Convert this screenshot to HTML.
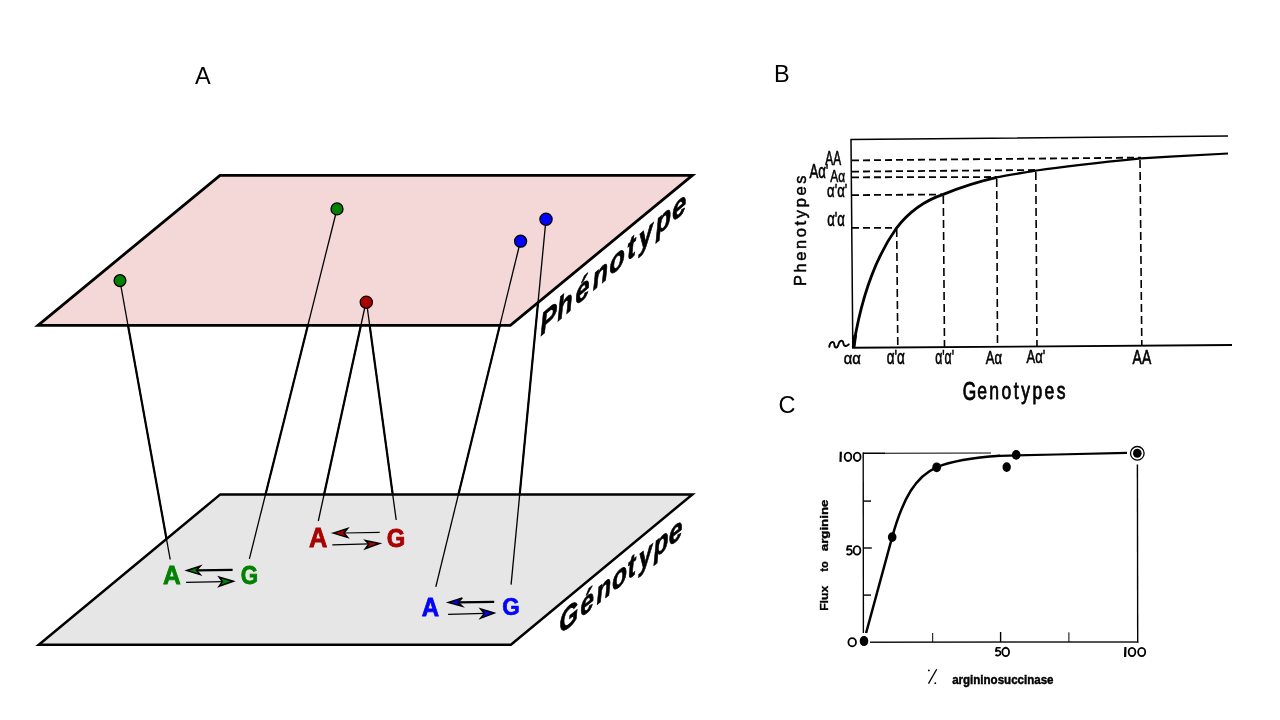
<!DOCTYPE html>
<html lang="fr">
<head>
<meta charset="utf-8">
<title>Génotype - Phénotype</title>
<style>
  html, body { margin: 0; padding: 0; background: #ffffff; }
  body { width: 1280px; height: 720px; overflow: hidden; font-family: "Liberation Sans", sans-serif; }
  svg { display: block; will-change: transform; opacity: 0.9999; }
  text { font-family: "Liberation Sans", sans-serif; }
  .lbl { font-size: 23.5px; fill: #000; }
  .bold { font-weight: bold; }
  .hand { font-family: "Liberation Sans", sans-serif; fill: #000; }
</style>
</head>
<body>
<svg width="1280" height="720" viewBox="0 0 1280 720">
  <rect x="0" y="0" width="1280" height="720" fill="#ffffff"/>

  <!-- ================= PANEL A ================= -->
  <text class="lbl" x="195" y="84">A</text>

  <!-- lower plane (genotype) -->
  <polygon points="220.3,494.4 692.4,494.4 510.9,644.7 38.8,644.7" fill="#e6e6e6" stroke="#000" stroke-width="2.5" stroke-linejoin="miter"/>
  <!-- upper plane (phenotype) -->
  <polygon points="220,175.3 692.4,175.3 510.4,325.3 38,325.3" fill="#f4d7d7" stroke="#000" stroke-width="2.8" stroke-linejoin="miter"/>

  <!-- connecting lines -->
  <g stroke="#000" stroke-width="1.3" fill="none">
      <line x1="120" y1="281" x2="170.2" y2="559.5"/>
      <line x1="337" y1="209" x2="249.4" y2="558.8"/>
      <line x1="366" y1="302" x2="318.3" y2="521"/>
      <line x1="366.5" y1="302" x2="396.2" y2="520"/>
      <line x1="520.5" y1="241" x2="435.8" y2="586.8"/>
      <line x1="546" y1="219" x2="511.1" y2="584.6"/>
  </g>
  <g stroke="#000" stroke-width="2.2" fill="none">
    <line x1="127.99" y1="325.31" x2="166.50" y2="538.96"/>
    <line x1="307.87" y1="325.31" x2="265.53" y2="494.40"/>
    <line x1="360.92" y1="325.30" x2="324.09" y2="494.40"/>
    <line x1="369.67" y1="325.30" x2="392.71" y2="494.41"/>
    <line x1="499.85" y1="325.31" x2="458.43" y2="494.40"/>
    <line x1="538.03" y1="302.54" x2="519.71" y2="494.41"/>
  </g>

  <!-- dots -->
  <g stroke="#000" stroke-width="1.3">
    <circle cx="120" cy="280.6" r="5.9" fill="#008000"/>
    <circle cx="337" cy="208.9" r="6" fill="#008000"/>
    <circle cx="366.3" cy="302.2" r="6.1" fill="#aa0000"/>
    <circle cx="520.6" cy="241.2" r="6" fill="#0000ff"/>
    <circle cx="546" cy="219.2" r="6.1" fill="#0000ff"/>
  </g>

  <!-- plane labels -->
  <text class="bold" font-style="italic" font-size="30" fill="#000" stroke="#000" stroke-width="0.7" transform="matrix(0.85,-0.735,0.05,1,542.5,334.8)" x="-2.35 17.60 39.20 59.50 79.20 100.00 113.90 133.45 152.90" y="0">Phénotype</text>
  <text class="bold" font-style="italic" font-size="30" fill="#000" stroke="#000" stroke-width="0.7" transform="matrix(0.815,-0.655,0.05,1,559,635.3)" x="0.80 26.84 46.27 65.80 84.80 98.50 116.56 135.34" y="0">Génotype</text>

  <!-- green A <-> G -->
  <g fill="#008000" stroke="#008000" stroke-width="3" class="bold" font-size="100">
    <text transform="translate(162.90,584.04) scale(0.2458,0.2625)" x="0" y="0">A</text>
    <text transform="translate(240.85,584.04) scale(0.2239,0.2547)" x="0" y="0">G</text>
  </g>
  <g stroke="#000" fill="#008000">
    <line x1="232.6" y1="569.8" x2="197" y2="570.3" stroke-width="2.2"/>
    <polygon points="186.8,570.5 200.2,566.2 196.5,570.2 200.2,574.6" stroke-width="1.5" stroke-linejoin="miter"/>
    <line x1="186.1" y1="582.4" x2="223" y2="581.6" stroke-width="1.2"/>
    <polygon points="233.3,581.3 219.1,577.0 222.4,581.6 219.1,586.3" stroke-width="1.5" stroke-linejoin="miter"/>
  </g>

  <!-- red A <-> G -->
  <g fill="#aa0000" stroke="#aa0000" stroke-width="3" class="bold" font-size="100">
    <text transform="translate(309.10,546.73) scale(0.2542,0.2708)" x="0" y="0">A</text>
    <text transform="translate(386.72,546.62) scale(0.2380,0.2613)" x="0" y="0">G</text>
  </g>
  <g stroke="#000" fill="#aa0000">
    <line x1="379.7" y1="532.4" x2="344" y2="533" stroke-width="1.2"/>
    <polygon points="333.2,533.1 347.6,528.5 344.0,533.0 347.6,537.4" stroke-width="1.5" stroke-linejoin="miter"/>
    <line x1="332.3" y1="544.8" x2="369" y2="543.9" stroke-width="1.2"/>
    <polygon points="379.6,543.4 365.4,540.4 368.9,544.0 365.4,548.6" stroke-width="1.5" stroke-linejoin="miter"/>
  </g>

  <!-- blue A <-> G -->
  <g fill="#0000ff" stroke="#0000ff" stroke-width="3" class="bold" font-size="100">
    <text transform="translate(421.70,615.94) scale(0.2403,0.2625)" x="0" y="0">A</text>
    <text transform="translate(502.25,615.47) scale(0.2239,0.2440)" x="0" y="0">G</text>
  </g>
  <g stroke="#000" fill="#0000ff">
    <line x1="494.2" y1="601.9" x2="458" y2="602.3" stroke-width="2.2"/>
    <polygon points="448.4,602.5 462.3,598.0 458.1,602.2 462.3,606.3" stroke-width="1.5" stroke-linejoin="miter"/>
    <line x1="448.1" y1="614.3" x2="484.5" y2="613.4" stroke-width="1.2"/>
    <polygon points="494.1,613.0 480.7,609.0 484.4,613.4 480.7,618.1" stroke-width="1.5" stroke-linejoin="miter"/>
  </g>

  <!-- ================= PANEL B ================= -->
  <text class="lbl" x="774" y="82">B</text>

  <g stroke="#000" fill="none">
    <!-- frame -->
    <polyline points="1228,136 851,139.6 852.8,348" stroke-width="1.5"/>
    <line x1="852" y1="347.8" x2="1232" y2="345" stroke-width="1.9"/>
    <!-- curve -->
    <path d="M853.5,346 C858,318 868,268 896.7,227.8 C912,208 928,199.5 943.3,194.4 C962,186.8 980,181.2 996.7,177.4" stroke-width="2.8"/>
    <path d="M994,178.1 L996.7,177.4 C1010,174.6 1024,172.7 1036.7,170.5 C1070,165.6 1105,162 1141,158.4 C1170,156.6 1200,155.2 1228,153.5" stroke-width="2.2"/>
    <!-- dashed horizontals -->
    <g stroke-width="1.8" stroke-dasharray="7 4">
      <line x1="852" y1="160.4" x2="1141" y2="157.6"/>
      <line x1="852" y1="171.6" x2="1036" y2="170"/>
      <line x1="852" y1="177.3" x2="996.7" y2="177"/>
      <line x1="852" y1="195.1" x2="943.3" y2="194.5"/>
      <line x1="852" y1="227.8" x2="896.7" y2="227.8"/>
    </g>
    <!-- dashed verticals -->
    <g stroke-width="1.6" stroke-dasharray="8 4">
      <line x1="896.7" y1="229" x2="897.8" y2="347"/>
      <line x1="943.3" y1="196" x2="944.5" y2="347"/>
      <line x1="996.7" y1="179" x2="997.5" y2="346.5"/>
      <line x1="1035.8" y1="172" x2="1037" y2="346"/>
      <line x1="1140" y1="160" x2="1141.8" y2="345.5"/>
    </g>
  </g>

  <!-- B labels -->
  <g>
    <text transform="translate(825.36,165.21) scale(0.1187,0.1959)" font-size="100" font-family="Liberation Sans" fill="#000" stroke="#000" stroke-width="3.2" >AA</text>
    <text transform="translate(809.40,178.41) scale(0.1319,0.1973)" font-size="100" font-family="Liberation Sans" fill="#000" stroke="#000" stroke-width="3.2" >Aα'</text>
    <text transform="translate(830.36,181.99) scale(0.1195,0.1689)" font-size="100" font-family="Liberation Sans" fill="#000" stroke="#000" stroke-width="3.2" >Aα</text>
    <text transform="translate(827.04,197.42) scale(0.1315,0.1919)" font-size="100" font-family="Liberation Sans" fill="#000" stroke="#000" stroke-width="3.2" >α'α'</text>
    <text transform="translate(827.24,225.72) scale(0.1316,0.1946)" font-size="100" font-family="Liberation Sans" fill="#000" stroke="#000" stroke-width="3.2" >α'α</text>
    <text transform="translate(843.70,364.00) scale(0.1482,0.1661)" font-size="100" font-family="Liberation Sans" fill="#000" stroke="#000" stroke-width="3.2" >αα</text>
    <text transform="translate(886.63,364.22) scale(0.1353,0.1932)" font-size="100" font-family="Liberation Sans" fill="#000" stroke="#000" stroke-width="3.2" >α'α</text>
    <text transform="translate(935.15,364.22) scale(0.1228,0.1932)" font-size="100" font-family="Liberation Sans" fill="#000" stroke="#000" stroke-width="3.2" >α'α'</text>
    <text transform="translate(985.69,364.23) scale(0.1305,0.1892)" font-size="100" font-family="Liberation Sans" fill="#000" stroke="#000" stroke-width="3.2" >Aα</text>
    <text transform="translate(1026.59,363.43) scale(0.1299,0.1892)" font-size="100" font-family="Liberation Sans" fill="#000" stroke="#000" stroke-width="3.2" >Aα'</text>
    <text transform="translate(1132.62,364.01) scale(0.1396,0.1973)" font-size="100" font-family="Liberation Sans" fill="#000" stroke="#000" stroke-width="3.2" >AA</text>
    <text transform="translate(962.68,399.82) scale(0.1739,0.2613)" font-size="100" font-family="Liberation Sans" fill="#000" stroke="#000" stroke-width="3.4" >G</text>
    <text transform="translate(977.15,398.90) scale(0.1756,0.2303)" font-size="100" font-family="Liberation Sans" fill="#000" stroke="#000" stroke-width="3.4" letter-spacing="14" >enotypes</text>
    <text transform="translate(806.29,285.99) rotate(-90) scale(0.1642,0.1612)" font-size="100" font-family="Liberation Sans" fill="#000" stroke="#000" stroke-width="3" letter-spacing="16" >Phenotypes</text>
  </g>
  <path d="M829.3,346.8 c0.5,-5 4.5,-6.5 5,-2.5 c0.5,4 3,4.5 4,0.5 c1,-4.5 4.5,-5.5 5,-2 c0.5,4 3,4 5.5,1.5" stroke="#000" stroke-width="1.9" fill="none" stroke-linecap="round"/>
  <path d="M855.2,335 L853.6,347.5" stroke="#000" stroke-width="3.6" fill="none"/>

  <!-- ================= PANEL C ================= -->
  <text class="lbl" x="778.5" y="412.5">C</text>

  <g stroke="#000" fill="none">
    <line x1="863.2" y1="452.6" x2="863.4" y2="633" stroke-width="1.35"/>
    <line x1="863" y1="453.3" x2="885" y2="453.2" stroke-width="1.5"/>
    <line x1="885" y1="453.2" x2="991" y2="453" stroke-width="1.1" stroke="#000"/>
    <line x1="870" y1="642.2" x2="1138.4" y2="641.9" stroke-width="1.5" stroke="#1a1a1a"/>
    <line x1="1137.4" y1="464.4" x2="1137.7" y2="642.5" stroke-width="1.4"/>
    <!-- ticks -->
    <g stroke-width="1.4">
      <line x1="863.5" y1="501.1" x2="871" y2="501.1"/>
      <line x1="863.5" y1="548" x2="871.8" y2="548"/>
      <line x1="863.5" y1="595.1" x2="871" y2="595.1"/>
      <line x1="932.7" y1="633" x2="932.7" y2="642" stroke-width="1"/>
      <line x1="1000.6" y1="632" x2="1000.6" y2="642"/>
      <line x1="1068.9" y1="632.3" x2="1068.9" y2="642" stroke-width="1"/>
    </g>
    <!-- curve -->
    <path d="M866.1,633 L892.2,537 C903,498 916,476 936.7,467.3 C953,460.5 975,457.5 1000,455.8" stroke-width="2.5"/>
    <path d="M998,455.9 L1000,455.8 C1040,454.6 1090,454 1127,452.8" stroke-width="2.2"/>
    <circle cx="1137.3" cy="453.3" r="6.8" stroke-width="1.3" fill="#fff"/>
  </g>
  <g fill="#000">
    <ellipse cx="864" cy="641.1" rx="4.3" ry="5"/>
    <ellipse cx="892.2" cy="537.1" rx="4.3" ry="4.9"/>
    <ellipse cx="936.7" cy="467.3" rx="4.4" ry="4.9"/>
    <ellipse cx="1006.7" cy="467.1" rx="4.2" ry="4.9"/>
    <ellipse cx="1016.2" cy="454.9" rx="4.3" ry="4.9"/>
    <ellipse cx="1137.3" cy="453.3" rx="4.3" ry="4.5"/>
  </g>
  <!-- hand-set numerals -->
  <g stroke="#000" stroke-width="1.8" fill="none" stroke-linecap="butt" stroke-linejoin="round">
    <line x1="840.8" y1="451.8" x2="840.5" y2="461.9" stroke-width="2.2"/>
    <ellipse cx="848.0" cy="456.8" rx="3.35" ry="4.20"/>
    <ellipse cx="857.2" cy="456.8" rx="3.35" ry="4.20"/>
    <path transform="translate(845.8,545.3) scale(1.000,1.010)" d="M6.2,0.9 H1.9 L1.2,4.6 C2.6,3.6 6.1,3.7 6.1,6.5 C6.1,9.6 2.3,9.9 0.9,8.2"/>
    <ellipse cx="857.0" cy="550.4" rx="3.35" ry="4.20"/>
    <ellipse cx="852.2" cy="642.2" rx="3.80" ry="4.10"/>
    <path transform="translate(994.7,646.9) scale(0.960,0.940)" d="M6.2,0.9 H1.9 L1.2,4.6 C2.6,3.6 6.1,3.7 6.1,6.5 C6.1,9.6 2.3,9.9 0.9,8.2"/>
    <ellipse cx="1005.7" cy="651.9" rx="3.40" ry="4.15"/>
    <line x1="1125.4" y1="647.0" x2="1125.1" y2="657.0" stroke-width="2.2"/>
    <ellipse cx="1132.0" cy="652.0" rx="3.35" ry="4.20"/>
    <ellipse cx="1141.7" cy="652.0" rx="3.55" ry="4.20"/>
  </g>
  <g>
    <text transform="translate(952.15,683.9) scale(0.1156,0.1225)" font-size="100" font-family="Liberation Sans" font-weight="bold" fill="#000" stroke="#000" stroke-width="3.5">argininosuccinase</text>
    <text transform="translate(827.89,610.86) rotate(-90) scale(0.1222,0.1122)" font-size="100" font-family="Liberation Sans" font-weight="bold" fill="#000" stroke="#000" stroke-width="3">Flux</text>
    <text transform="translate(827.99,571.81) rotate(-90) scale(0.1111,0.1119)" font-size="100" font-family="Liberation Sans" font-weight="bold" fill="#000" stroke="#000" stroke-width="3">to</text>
    <text transform="translate(828.32,551.20) rotate(-90) scale(0.1326,0.1181)" font-size="100" font-family="Liberation Sans" font-weight="bold" fill="#000" stroke="#000" stroke-width="3">arginine</text>
  </g>
  <!-- percent sign -->
  <g stroke="#000" fill="#000">
    <line x1="928.5" y1="683.6" x2="936.7" y2="669.3" stroke-width="1.3"/>
    <circle cx="928.9" cy="670.4" r="0.9" stroke="none"/>
    <circle cx="935.3" cy="683.2" r="0.9" stroke="none"/>
  </g>
</svg>
</body>
</html>
